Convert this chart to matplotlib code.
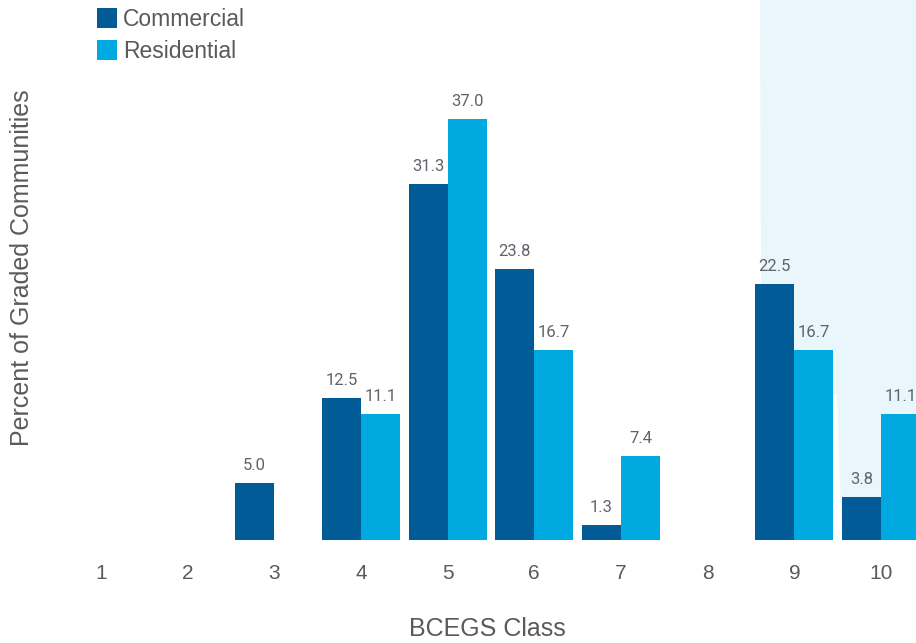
import matplotlib
matplotlib.use("Agg")
import matplotlib.pyplot as plt
from matplotlib.patches import Polygon, Rectangle
import numpy as np

classes = [1, 2, 3, 4, 5, 6, 7, 8, 9, 10]
class_labels = ["1", "2", "3", "4", "5", "6", "7", "8", "9", "10"]
commercial = [None, None, 5.0, 12.5, 31.3, 23.8, 1.3, None, 22.5, 3.8]
residential = [None, None, None, 11.1, 37.0, 16.7, 7.4, None, 16.7, 11.1]
series_names = ["Commercial", "Residential"]

C_COM = "#005b96"
C_RES = "#00a9e0"
BG = "#e9f6fc"
TXT = "#5a5a5a"

W, H = 916, 643
plt.rcParams['font.family'] = ['Liberation Sans', 'DejaVu Sans']
fig = plt.figure(figsize=(W / 100, H / 100), dpi=100)

# decorative light-blue background shape (figure pixel coords)
pts = [(760, 0), (916, 0), (916, 540), (842, 540), (837, 395), (832, 395), (832, 540), (762, 540)]
bg = Polygon([(px / W, 1 - py / H) for px, py in pts],
             closed=True, transform=fig.transFigure, facecolor=BG, edgecolor='none', zorder=-10)
fig.patches.append(bg)

ax = fig.add_axes([0, (H - 540) / H, 1, 540 / H], zorder=1)
ax.set_facecolor('none')
px_per_class = 86.7
x0 = 100.8
ax.set_xlim(1 - x0 / px_per_class, 1 + (W - x0) / px_per_class)
ax.set_ylim(0, 540 / 11.38)

bw = 39 / px_per_class
x = np.array(classes, dtype=float)
com_vals = np.array([v if v is not None else 0 for v in commercial])
res_vals = np.array([v if v is not None else 0 for v in residential])
ax.bar(x - bw / 2, com_vals, width=bw, color=C_COM, zorder=2, linewidth=0)
ax.bar(x + bw / 2, res_vals, width=bw, color=C_RES, zorder=2, linewidth=0)

for xi, v in zip(x, commercial):
    if v is not None:
        ax.annotate(f"{v:.1f}", (xi - bw / 2, v), xytext=(0, 7), textcoords='offset points',
                    ha='center', va='bottom', fontsize=12, color="#5f636a", family=['Roboto', 'DejaVu Sans'])
for xi, v in zip(x, residential):
    if v is not None:
        ax.annotate(f"{v:.1f}", (xi + bw / 2, v), xytext=(0, 7), textcoords='offset points',
                    ha='center', va='bottom', fontsize=12, color="#5f636a", family=['Roboto', 'DejaVu Sans'])

ax.set_xticks(x)
ax.set_xticklabels(class_labels, fontsize=15, color=TXT)
ax.tick_params(axis='x', length=0, pad=17)
ax.set_yticks([])
for s in ax.spines.values():
    s.set_visible(False)

fig.text(22 / W, 1 - 268 / H, "Percent of Graded Communities", rotation=90,
         ha='center', va='center', fontsize=18, color=TXT)
fig.text(487 / W, 1 - 629 / H, "BCEGS Class", ha='center', va='center', fontsize=18, color=TXT)

# legend
for i, (name, col) in enumerate(zip(series_names, [C_COM, C_RES])):
    yc = 18 + 32 * i
    fig.patches.append(Rectangle((97 / W, 1 - (yc + 10) / H), 20 / W, 20 / H,
                                 transform=fig.transFigure, facecolor=col, edgecolor='none'))
    fig.text(123 / W, 1 - (yc + 1) / H, name, ha='left', va='center', fontsize=16.5, color=TXT)

fig.savefig("out.png", dpi=100)
